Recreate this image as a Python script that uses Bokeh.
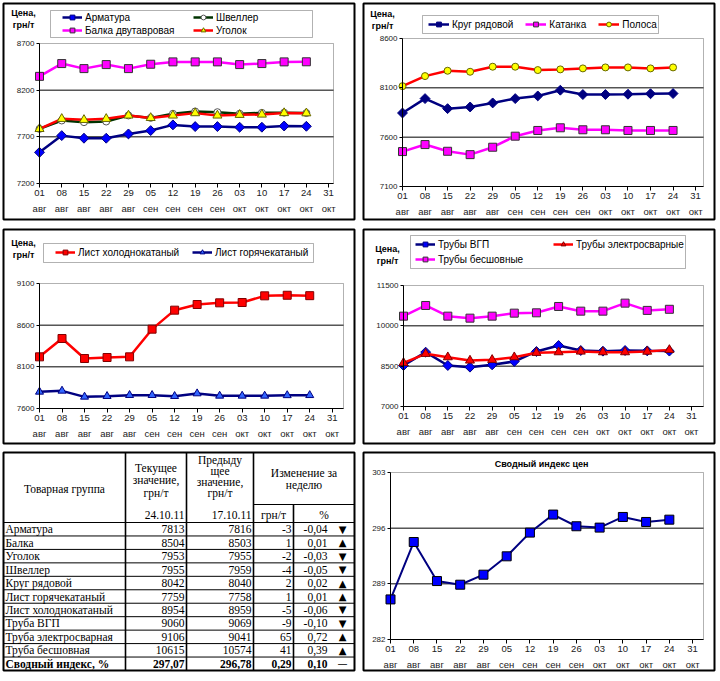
import math
from bokeh.plotting import figure
from bokeh.models import Range1d, FixedTicker, Legend, LegendItem, Label, BoxAnnotation, LinearAxis
from bokeh.layouts import column, row
from bokeh.embed import file_html
from bokeh.resources import INLINE
from bokeh.core.properties import value

# ---------------- data ----------------
days = ["01", "08", "15", "22", "29", "05", "12", "19", "26", "03", "10", "17", "24", "31"]
months = ["авг"] * 5 + ["сен"] * 4 + ["окт"] * 5

armatura = [7534, 7713, 7685, 7685, 7731, 7767, 7828, 7810, 7810, 7803, 7803, 7816, 7813]
balka = [8348, 8485, 8431, 8474, 8431, 8478, 8503, 8503, 8503, 8474, 8485, 8503, 8504]
shveller = [7785, 7875, 7857, 7864, 7929, 7903, 7947, 7972, 7964, 7947, 7957, 7959, 7955]
ugolok = [7785, 7893, 7882, 7893, 7929, 7903, 7929, 7954, 7929, 7936, 7939, 7955, 7953]

krug = [7845, 7991, 7889, 7906, 7947, 7991, 8018, 8076, 8032, 8032, 8035, 8040, 8042]
katanka = [7454, 7525, 7457, 7423, 7498, 7610, 7668, 7695, 7675, 7675, 7668, 7668, 7668]
polosa = [8117, 8219, 8273, 8263, 8314, 8314, 8280, 8287, 8297, 8307, 8307, 8297, 8307]

list_hk = [8220, 8440, 8200, 8212, 8220, 8552, 8780, 8848, 8868, 8872, 8952, 8959, 8954]
list_gk = [7800, 7812, 7740, 7748, 7760, 7760, 7748, 7780, 7752, 7752, 7752, 7758, 7759]

vgp = [8525, 9021, 8525, 8463, 8550, 8674, 9046, 9269, 9083, 9058, 9083, 9069, 9060]
elektro = [8624, 8959, 8835, 8711, 8736, 8835, 8996, 9021, 9046, 9021, 9021, 9041, 9106]
besh = [10360, 10757, 10360, 10286, 10360, 10472, 10484, 10720, 10546, 10546, 10844, 10574, 10615]

index_vals = [287.04, 294.26, 289.35, 288.89, 290.15, 292.46, 295.44, 297.71, 296.24, 296.07, 297.41, 296.78, 297.07]

ticks_tl = [7200, 7700, 8200, 8700]
ticks_tr = [7100, 7600, 8100, 8600]
ticks_ml = [7600, 8100, 8600, 9100]
ticks_mr = [7000, 8500, 10000, 11500]
ticks_ix = [282, 289, 296, 303]

tbl_names = ["Арматура", "Балка", "Уголок", "Швеллер", "Круг рядовой", "Лист горячекатаный",
             "Лист холоднокатаный", "Труба ВГП", "Труба электросварная", "Труба бесшовная",
             "Сводный индекс, %"]
tbl_cur = ["7813", "8504", "7953", "7955", "8042", "7759", "8954", "9060", "9106", "10615", "297,07"]
tbl_prev = ["7816", "8503", "7955", "7959", "8040", "7758", "8959", "9069", "9041", "10574", "296,78"]
tbl_chg = ["-3", "1", "-2", "-4", "2", "1", "-5", "-9", "65", "41", "0,29"]
tbl_pct = ["-0,04", "0,01", "-0,03", "-0,05", "0,02", "0,01", "-0,06", "-0,10", "0,72", "0,39", "0,10"]
tbl_arrow = ["▼", "▲", "▼", "▼", "▲", "▲", "▼", "▼", "▲", "▲", "—"]

SANS = "Liberation Sans"
SERIF = "Liberation Serif"
NAVY = "#000080"
BLUE = "#0000FF"
MAG = "#FF00FF"
RED = "#FF0000"
YEL = "#FFFF00"
DKGREEN = "#003300"
W = 360


class Chart:
    def __init__(self, H, frame, chart, xend, yticks):
        self.fl, self.fr, self.ft, self.fb = frame
        self.cl, self.cr, self.ct, self.cb = chart
        self.xend = xend
        self.ylo, self.yhi = yticks[0], yticks[-1]
        p = figure(width=W, height=H,
                   x_range=Range1d(self.X(self.fl), self.X(self.fr)),
                   y_range=Range1d(self.Y(self.fb), self.Y(self.ft)),
                   output_backend="svg", toolbar_location=None,
                   x_axis_type=None, y_axis_type=None,
                   min_border_left=self.fl, min_border_right=W - self.fr,
                   min_border_top=self.ft, min_border_bottom=H - self.fb)
        p.background_fill_color = "white"
        p.border_fill_color = "white"
        p.outline_line_color = "black"
        p.outline_line_width = 2
        p.outline_line_alpha = 1
        self.p = p
        ya = LinearAxis(fixed_location=0, bounds=(self.ylo, self.yhi),
                        ticker=FixedTicker(ticks=yticks), major_tick_out=3, major_tick_in=0,
                        minor_tick_out=0, minor_tick_in=0, major_label_standoff=2,
                        axis_line_color="black", major_tick_line_color="black",
                        major_label_text_font=SANS, major_label_text_font_size="8px",
                        major_label_text_color="#222222")
        p.add_layout(ya, "left")
        cats = list(range(len(days)))
        ax1 = LinearAxis(fixed_location=self.ylo, bounds=(0, xend),
                         ticker=FixedTicker(ticks=cats),
                         major_label_overrides={i: d for i, d in enumerate(days)},
                         major_tick_out=4, major_tick_in=0, minor_tick_out=0, minor_tick_in=0,
                         major_label_standoff=2, axis_line_color="black",
                         major_tick_line_color="black", major_label_text_font=SANS,
                         major_label_text_font_size="9.5px", major_label_text_color="#222222")
        ax2 = LinearAxis(fixed_location=self.ylo, bounds=(0, xend),
                         ticker=FixedTicker(ticks=cats),
                         major_label_overrides={i: m for i, m in enumerate(months)},
                         major_tick_out=0, major_tick_in=0, minor_tick_out=0, minor_tick_in=0,
                         major_label_standoff=19, axis_line_color=None,
                         major_tick_line_color=None, major_label_text_font=SANS,
                         major_label_text_font_size="9.5px", major_label_text_color="#222222")
        p.add_layout(ax1, "below")
        p.add_layout(ax2, "below")
        inner = yticks[1:-1]
        p.segment(x0=[0] * len(inner), x1=[xend] * len(inner), y0=inner, y1=inner,
                  line_color="black", line_width=1)
        p.add_layout(BoxAnnotation(left=0, right=xend, bottom=self.ylo, top=self.yhi,
                                   fill_color=None, fill_alpha=0, line_color="black",
                                   line_width=1, level="underlay"))

    def X(self, px):
        return (px - self.cl) / (self.cr - self.cl) * self.xend

    def Y(self, py):
        return self.ylo + (self.cb - py) / (self.cb - self.ct) * (self.yhi - self.ylo)

    def box(self, l, r, t, b, lw=1):
        self.p.add_layout(BoxAnnotation(left=self.X(l), right=self.X(r), top=self.Y(t),
                                        bottom=self.Y(b), fill_color="white", fill_alpha=1,
                                        line_color="black", line_width=lw, level="annotation"))

    def label(self, x, y, text, size="9px", bold=True, align="center"):
        self.p.add_layout(Label(x=self.X(x), y=self.Y(y), text=text, text_align=align,
                                text_baseline="middle", text_font=SANS, text_font_size=size,
                                text_font_style="bold" if bold else "normal",
                                text_color="black"))

    def series(self, y, color, lw, marker, size, fill, mline, angle=0.0):
        x = list(range(len(y)))
        r1 = self.p.line(x, y, line_color=color, line_width=lw)
        r2 = self.p.scatter(x, y, marker=marker, size=size, fill_color=fill,
                            line_color=mline, line_width=1, angle=angle)
        return [r1, r2]

    def legend(self, items, left, bottom, ncols=None, glyph_w=20, label_w=20,
               spacing=4, gh=12):
        kw = dict(items=items, location=(left - self.fl, self.fb - bottom),
                  orientation="horizontal", padding=0, margin=0,
                  spacing=spacing, glyph_width=glyph_w, glyph_height=gh, label_height=gh,
                  label_width=label_w, label_standoff=3, border_line_color=None,
                  background_fill_alpha=0, label_text_font=SANS,
                  label_text_font_size="10px", label_text_color="black")
        if ncols:
            kw["ncols"] = ncols
        self.p.add_layout(Legend(**kw))


# ---------------- top-left ----------------
c1 = Chart(224, (3, 354, 3, 219), (39, 333, 43, 183), 13.22, ticks_tl)
r_arm = c1.series(armatura, NAVY, 2.5, "square", 7, BLUE, NAVY, math.pi / 4)
r_bal = c1.series(balka, MAG, 2.5, "square", 8, MAG, "#333333")
r_shv = c1.series(shveller, DKGREEN, 2.5, "circle", 7, "white", "#555555")
r_ugo = c1.series(ugolok, RED, 2.5, "triangle", 9, YEL, "#666600")
c1.box(50, 312, 10, 37)
c1.legend([LegendItem(label="Арматура", renderers=r_arm),
           LegendItem(label="Швеллер", renderers=r_shv),
           LegendItem(label="Балка двутавровая", renderers=r_bal),
           LegendItem(label="Уголок", renderers=r_ugo)],
          62, 36, ncols=2, label_w=107, spacing=1)
c1.label(23, 12, "Цена,")
c1.label(23, 24, "грн/т")

# ---------------- top-right ----------------
c2 = Chart(224, (3, 354, 3, 219), (42, 343, 38, 186), 13.35, ticks_tr)
r_kru = c2.series(krug, NAVY, 2.5, "square", 7, NAVY, NAVY, math.pi / 4)
r_kat = c2.series(katanka, MAG, 2.5, "square", 8, MAG, "#333333")
r_pol = c2.series(polosa, RED, 2.5, "circle", 7, YEL, "#666600")
c2.box(62, 298, 15, 33)
c2.legend([LegendItem(label="Круг рядовой", renderers=r_kru),
           LegendItem(label="Катанка", renderers=r_kat),
           LegendItem(label="Полоса", renderers=r_pol)],
          68, 30, glyph_w=21, spacing=12)
c2.label(22, 13, "Цена,")
c2.label(22, 25, "грн/т")

# ---------------- middle-left ----------------
c3 = Chart(224, (3, 354, 5, 219), (39, 343, 59, 184), 13.5, ticks_ml)
r_hk = c3.series(list_hk, RED, 2.5, "square", 8, RED, "#800000")
r_gk = c3.series(list_gk, NAVY, 2.5, "triangle", 8, "#3366FF", NAVY)
c3.box(43, 313, 19, 38)
c3.legend([LegendItem(label="Лист холоднокатаный", renderers=r_hk),
           LegendItem(label="Лист горячекатаный", renderers=r_gk)],
          55, 34, label_w=110, spacing=4)
c3.label(23, 18, "Цена,")
c3.label(23, 30, "грн/т")

# ---------------- middle-right ----------------
c4 = Chart(224, (3, 354, 5, 219), (43, 343, 61, 182), 13.54, ticks_mr)
r_vgp = c4.series(vgp, NAVY, 2.5, "square", 7, BLUE, NAVY, math.pi / 4)
r_ele = c4.series(elektro, RED, 2.5, "triangle", 9, RED, "#800000")
r_bes = c4.series(besh, MAG, 2.5, "square", 8, MAG, "#333333")
c4.box(50, 325, 11, 44)
c4.legend([LegendItem(label="Трубы ВГП", renderers=r_vgp),
           LegendItem(label="Трубы электросварные", renderers=r_ele),
           LegendItem(label="Трубы бесшовные", renderers=r_bes)],
          55, 41, ncols=2, label_w=112, spacing=3)
c4.label(27, 24, "Цена,")
c4.label(27, 36, "грн/т")

# ---------------- index chart ----------------
c6 = Chart(233, (3, 354, 4, 222), (30, 343, 24, 191), 13.47, ticks_ix)
c6.series(index_vals, NAVY, 2, "square", 9, BLUE, "black")
c6.label(181, 15, "Сводный индекс цен")

# ---------------- table ----------------
TL, TR, TT, TB = 3, 354, 4, 222
t = figure(width=W, height=233, x_range=Range1d(TL, TR), y_range=Range1d(TB, TT),
           output_backend="svg", toolbar_location=None,
           min_border_left=TL, min_border_right=W - TR, min_border_top=TT,
           min_border_bottom=233 - TB, x_axis_type=None, y_axis_type=None)
t.outline_line_color = "black"
t.outline_line_width = 2
t.background_fill_color = "white"
t.border_fill_color = "white"

k1, k2, k3, k4 = 125, 186, 253, 293
hline = 56
dline = 74
nrows = len(tbl_names)
rh = (TB - dline) / nrows
row_lines = [dline + rh * k for k in range(1, nrows)]
t.segment(x0=[TL] * len(row_lines), x1=[TR] * len(row_lines), y0=row_lines, y1=row_lines,
          line_color="black", line_width=1)
t.segment(x0=[TL, k3], x1=[TR, TR], y0=[dline, hline], y1=[dline, hline],
          line_color="black", line_width=1.2)
t.segment(x0=[k1, k2, k3, k4], x1=[k1, k2, k3, k4], y0=[TT, TT, TT, hline],
          y1=[TB, TB, TB, TB], line_color="black", line_width=1.6)

FS = "11.5px"
tfont = value(SERIF)
t.text(x=[(TL + k1) / 2], y=[40], text=["Товарная группа"], text_align="center",
       text_baseline="middle", text_font=tfont, text_font_size=FS)
t.text(x=[(k1 + k2) / 2] * 3, y=[19, 31.5, 44], text=["Текущее", "значение,", "грн/т"],
       text_align="center", text_baseline="middle", text_font=tfont, text_font_size=FS)
t.text(x=[(k2 + k3) / 2] * 4, y=[11, 22.5, 33.5, 44],
       text=["Предыду", "щее", "значение,", "грн/т"],
       text_align="center", text_baseline="middle", text_font=tfont, text_font_size=FS)
t.text(x=[(k3 + TR) / 2] * 2, y=[24, 36.5], text=["Изменение за", "неделю"],
       text_align="center", text_baseline="middle", text_font=tfont, text_font_size=FS)
t.text(x=[k2 - 2, k3 - 2], y=[66.5, 66.5], text=["24.10.11", "17.10.11"], text_align="right",
       text_baseline="middle", text_font=tfont, text_font_size=FS)
t.text(x=[(k3 + k4) / 2, (k4 + TR) / 2], y=[66.5, 66.5], text=["грн/т", "%"],
       text_align="center", text_baseline="middle", text_font=tfont, text_font_size=FS)

ys = [dline + rh * (k + 0.5) for k in range(nrows)]
n = nrows - 1
for col_x, vals, align in [(5, tbl_names, "left"), (k2 - 2, tbl_cur, "right"),
                           (k3 - 2, tbl_prev, "right"), (k4 - 2, tbl_chg, "right"),
                           (327, tbl_pct, "right")]:
    t.text(x=[col_x] * n, y=ys[:n], text=vals[:n], text_align=align, text_baseline="middle",
           text_font=tfont, text_font_size=FS)
    t.text(x=[col_x], y=ys[n:], text=vals[n:], text_align=align, text_baseline="middle",
           text_font=tfont, text_font_size=FS, text_font_style="bold")
t.text(x=[342] * nrows, y=ys, text=tbl_arrow, text_align="center", text_baseline="middle",
       text_font=value("DejaVu Sans"), text_font_size="10px")

layout = column(row(c1.p, c2.p), row(c3.p, c4.p), row(t, c6.p))
open("out.html", "w").write(file_html(layout, INLINE))
